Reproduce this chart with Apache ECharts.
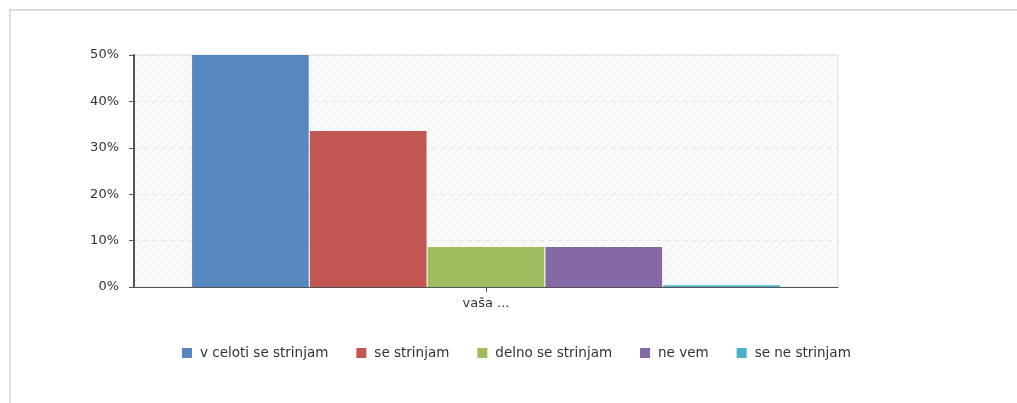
<!DOCTYPE html>
<html>
<head>
<meta charset="utf-8">
<script src="https://cdn.jsdelivr.net/npm/echarts@6/dist/echarts.min.js"></script>
<style>
html,body{margin:0;padding:0;background:#fff;}
#chart{width:1017px;height:403px;}
</style>
</head>
<body>
<div id="chart"></div>
<script>
const categories = ['vaša ...'];
const seriesNames = ['v celoti se strinjam', 'se strinjam', 'delno se strinjam', 'ne vem', 'se ne strinjam'];
const seriesValues = [[50], [33.6], [8.6], [8.6], [0.4]];
const colors = ['#5787bf', '#c15652', '#9fbc5f', '#8469a5', '#4bb0c8'];
const yTicks = [0, 10, 20, 30, 40, 50];

// hatched background pattern
const pc = document.createElement('canvas');
pc.width = 8; pc.height = 8;
const g = pc.getContext('2d');
g.fillStyle = '#fafafa';
g.fillRect(0, 0, 8, 8);
g.strokeStyle = '#eeeeee';
g.lineWidth = 1;
g.beginPath();
g.moveTo(0, 8); g.lineTo(8, 0);
g.moveTo(-4, 4); g.lineTo(4, -4);
g.moveTo(4, 12); g.lineTo(12, 4);
g.stroke();

const font = 'DejaVu Sans';
const chart = echarts.init(document.getElementById('chart'), null, {renderer: 'canvas'});

const series = seriesNames.map((name, i) => {
  const s = {
    name: name,
    type: 'bar',
    data: seriesValues[i],
    itemStyle: {color: colors[i]},
    barGap: '1%',
    barCategoryGap: '16.5%',
    emphasis: {disabled: true},
    animation: false
  };
  if (i === 0) {
    s.markLine = {
      silent: true,
      symbol: ['none', 'none'],
      z: 1,
      label: {show: false},
      lineStyle: {color: '#e2e2e2', type: [5, 4], width: 1},
      data: [{xAxis: 0}],
      animation: false
    };
  }
  return s;
});

chart.setOption({
  animation: false,
  color: colors,
  graphic: [
    {type: 'line', shape: {x1: 9, y1: 10, x2: 1017, y2: 10}, style: {stroke: '#dedede', lineWidth: 2}, silent: true},
    {type: 'line', shape: {x1: 10, y1: 9, x2: 10, y2: 403}, style: {stroke: '#dedede', lineWidth: 2}, silent: true}
  ],
  grid: {
    left: 134, right: 179, top: 55, bottom: 116,
    show: true,
    backgroundColor: {image: pc, repeat: 'repeat'},
    borderColor: '#dddddd',
    borderWidth: 1
  },
  legend: {
    top: 341,
    left: 177,
    padding: 5,
    icon: 'rect',
    itemWidth: 10,
    itemHeight: 10,
    itemGap: 28,
    itemStyle: {borderWidth: 0},
    textStyle: {fontFamily: font, fontSize: 13.5, color: '#333', padding: [0, 0, 0, 3]},
    data: seriesNames
  },
  xAxis: {
    type: 'category',
    data: categories,
    axisLine: {lineStyle: {color: '#555', width: 1}},
    axisTick: {show: true, alignWithLabel: true, length: 5, lineStyle: {color: '#555'}},
    axisLabel: {fontFamily: font, fontSize: 13, color: '#333', margin: 10},
    splitLine: {show: false}
  },
  yAxis: {
    type: 'value',
    min: 0, max: 50, interval: 10,
    axisLine: {show: true, lineStyle: {color: '#555', width: 2}},
    axisTick: {show: true, length: 5, lineStyle: {color: '#555', width: 1}},
    axisLabel: {fontFamily: font, fontSize: 13, color: '#333', margin: 15,
      formatter: function (v) { return yTicks.indexOf(v) >= 0 ? v + '%' : ''; }},
    splitLine: {show: true, lineStyle: {color: '#e4e4e4', type: [5, 4]}}
  },
  series: series
});
</script>
</body>
</html>
